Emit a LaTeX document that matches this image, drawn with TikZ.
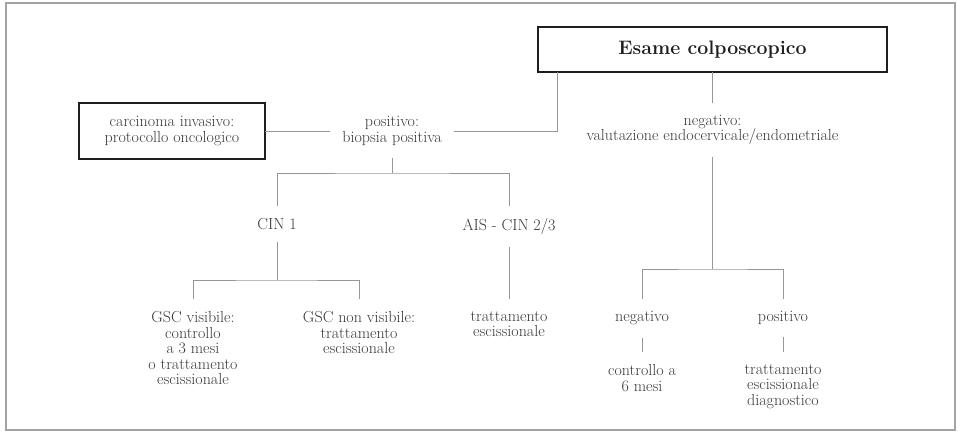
\documentclass[tikz,border=0pt]{standalone}
\usepackage{tikz}
\usetikzlibrary{positioning, calc}
\definecolor{ink}    {HTML}{383838}
\definecolor{strong} {HTML}{1E1E1E}
\definecolor{rule}   {HTML}{969696}
\definecolor{frame}  {HTML}{A2A2A2}

\begin{document}
\begin{tikzpicture}[x=1pt, y=-1pt,
    every node/.style={text=ink, align=center, font=\fontsize{16}{15.5}\selectfont, outer sep=0pt},
    lbl/.style={inner xsep=12pt, inner ysep=12.5pt},
    box/.style={draw=strong, line width=2.6pt, inner sep=4pt},
    link/.style={draw=rule, line width=0.9pt}]
  \useasboundingbox (0,0) rectangle (960,433);
  \draw[frame, line width=2pt] (5.5,3.5) rectangle (954.5,429.5);

  \node[box, minimum width=349pt, minimum height=45pt, text=strong, font=\fontsize{19.5}{22}\selectfont\bfseries] (esame) at (712.5,49.5) {Esame colposcopico};
  \node[box, minimum width=186pt, minimum height=56pt] (car) at (172,131) {carcinoma invasivo:\\protocollo oncologico};
  \node[lbl] (pos) at (392,131) {positivo:\\biopsia positiva};
  \node[lbl] (neg) at (712.5,130) {negativo:\\valutazione endocervicale/endometriale};

  \node[lbl, anchor=north] (cin1) at (277,206) {CIN 1};
  \node[lbl, anchor=north] (ais) at (509,206) {AIS - CIN 2/3};

  \node[lbl, anchor=north] (gscv) at (193,299) {GSC visibile:\\controllo\\a 3 mesi\\o trattamento\\escissionale};
  \node[lbl, anchor=north] (gscnv) at (359,299) {GSC non visibile:\\trattamento\\escissionale};
  \node[lbl, anchor=north] (trais) at (509,299) {trattamento\\escissionale};
  \node[lbl, anchor=north] (negv) at (642,299) {negativo};
  \node[lbl, anchor=north] (posv) at (783,299) {positivo};
  \node[lbl, anchor=north] (ctrl) at (642,352) {controllo a\\6 mesi};
  \node[lbl, anchor=north] (tratd) at (783,352) {trattamento\\escissionale\\diagnostico};

  \coordinate (pj) at (392,173);
  \coordinate (cj) at (277,280);
  \coordinate (nj) at (712.5,269);

  \draw[link] ([xshift=19pt]esame.south west) |- (pos);
  \draw[link] (car) -- (pos);
  \draw[link] (esame) -- (neg);
  \draw[link] (pos) -- (pj);
  \draw[link] (cin1) |- (pj) -| (ais);
  \draw[link] (cin1) -- (cj);
  \draw[link] (gscv) |- (cj) -| (gscnv);
  \draw[link] (ais) -- (trais);
  \draw[link] (neg) -- (nj);
  \draw[link] (negv) |- (nj) -| (posv);
  \draw[link] (negv) -- (ctrl);
  \draw[link] (posv) -- (tratd);
\end{tikzpicture}
\end{document}
